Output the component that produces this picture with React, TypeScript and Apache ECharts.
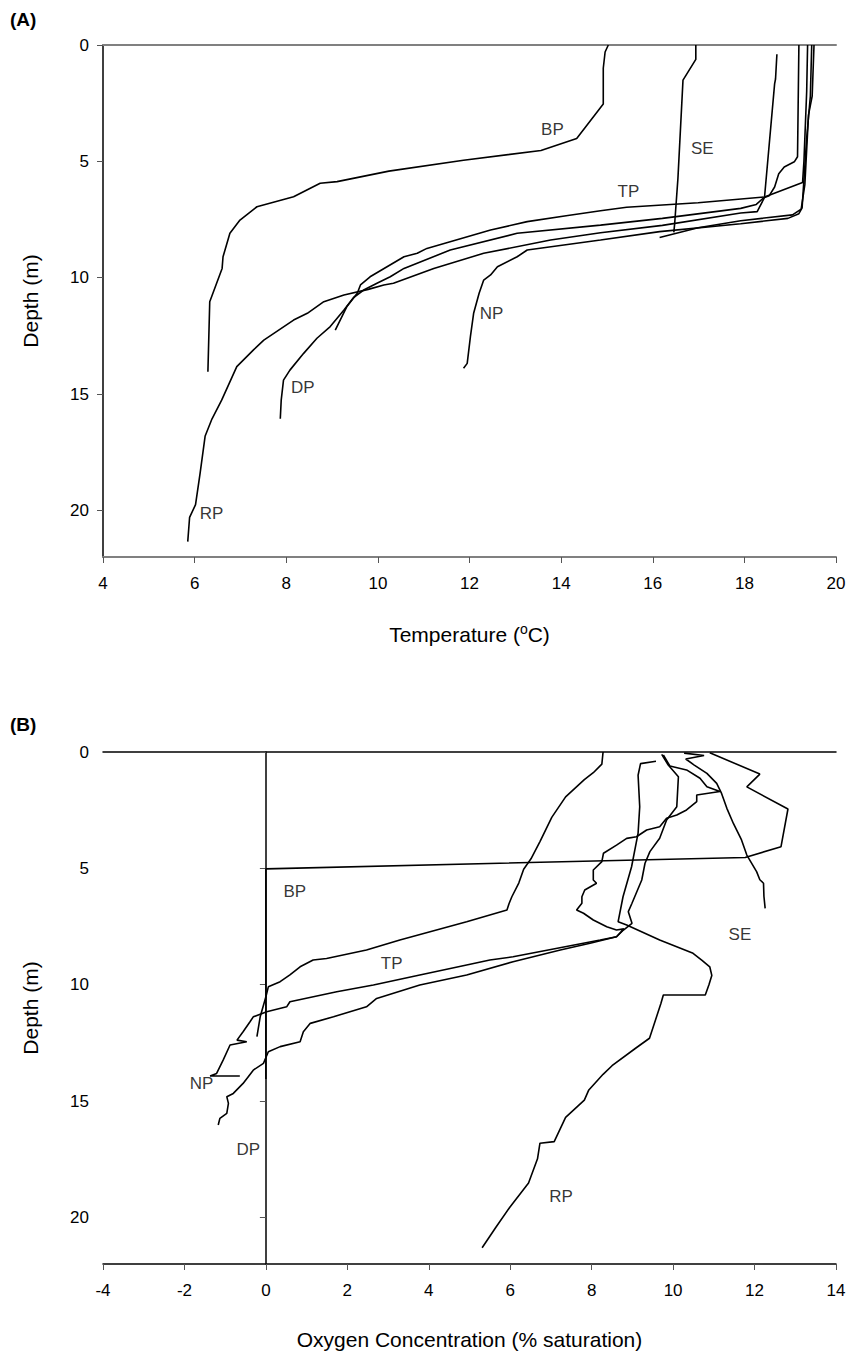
import React, { useEffect, useRef } from "react";
import * as echarts from "echarts";

// ---------- Panel A: temperature profiles [temperature °C, depth m] ----------
const tempBP = [[15.03,0],[14.96,0.3],[14.92,1.0],[14.92,2.54],[14.34,4.02],[13.56,4.53],[11.87,4.95],[10.24,5.42],[9.11,5.87],[8.74,5.94],[8.16,6.52],[7.36,6.95],[6.99,7.52],[6.77,8.09],[6.62,9.1],[6.6,9.6],[6.33,11.03],[6.29,14.04]];
const tempSE = [[16.94,0],[16.94,0.62],[16.66,1.51],[16.55,5.72],[16.48,7.64],[16.46,8.05]];
const tempTP = [[19.38,0],[19.36,2],[19.3,5],[19.27,5.91],[18.44,6.53],[16.99,6.78],[15.43,6.97],[14.86,7.12],[14.11,7.34],[13.26,7.59],[12.46,7.95],[11.07,8.74],[10.86,8.95],[10.57,9.1],[9.83,9.96],[9.62,10.31],[9.55,10.67],[9.32,11.25],[9.07,12.25]];
const tempDP = [[18.71,0.4],[18.68,1.46],[18.66,1.67],[18.44,6.53],[18.26,6.85],[17.92,7.02],[16.21,7.45],[14.86,7.74],[13.04,8.09],[11.58,8.81],[10.57,9.6],[10.27,9.96],[9.98,10.24],[9.69,10.53],[9.47,10.85],[9.26,11.39],[8.96,12.1],[8.67,12.6],[8.38,13.25],[8.08,13.97],[7.94,14.4],[7.89,15.26],[7.87,16.06]];
const tempRP = [[19.19,0],[19.16,4.8],[19.09,5.02],[18.87,5.24],[18.75,5.53],[18.66,6.1],[18.54,6.48],[18.44,6.55],[18.28,7.16],[17.92,7.22],[16.21,7.75],[14.86,8.07],[13.77,8.38],[12.31,8.95],[11.22,9.6],[10.34,10.24],[10.13,10.31],[9.79,10.5],[9.26,10.74],[8.82,11.03],[8.46,11.53],[8.16,11.82],[7.51,12.68],[7.28,13.11],[6.92,13.82],[6.59,15.26],[6.38,16.06],[6.23,16.8],[6.12,18.4],[6.02,19.75],[5.89,20.3],[5.85,21.34]];
const tempNP = [[19.47,0],[19.44,2.2],[19.36,4],[19.26,7.0],[19.19,7.25],[18.95,7.45],[17.92,7.68],[16.15,8.02],[14.86,8.38],[13.26,8.81],[13.04,9.1],[12.61,9.53],[12.46,9.88],[12.31,10.1],[12.21,10.67],[12.09,11.53],[12.02,12.53],[11.95,13.68],[11.87,13.89]];
const tempExtra = [[19.52,0],[19.48,2.2],[19.4,3.0],[19.32,6.0],[19.24,7.05],[19.05,7.3],[17.92,7.55],[16.99,7.85],[16.15,8.27]];
const tempLabels = [[13.81,3.65,"BP"],[17.08,4.46,"SE"],[15.47,6.31,"TP"],[12.48,11.55,"NP"],[8.36,14.73,"DP"],[6.37,20.12,"RP"]];

// ---------- Panel B: oxygen profiles [oxygen, depth m] ----------
const oxyBP = [[10.9,0.03],[12.13,0.95],[11.81,1.5],[12.82,2.45],[12.65,4.07],[11.77,4.53],[0,5.02],[0,14.05]];
const oxySE = [[10.27,0.05],[10.76,0.15],[10.31,0.3],[10.51,0.55],[10.83,0.92],[11.07,1.35],[11.19,1.78],[11.32,2.42],[11.48,3.07],[11.68,3.78],[11.81,4.43],[12.05,5.14],[12.13,5.49],[12.22,5.64],[12.23,6.2],[12.26,6.72]];
const oxyRP = [[9.58,0.4],[9.2,0.5],[9.14,1.0],[9.18,2.35],[9.14,3.49],[8.98,4.93],[8.77,6.22],[8.65,7.29],[8.86,7.43],[9.67,8.08],[10.49,8.65],[10.71,8.95],[10.9,9.23],[10.95,9.6],[10.88,10.0],[10.79,10.44],[9.76,10.44],[9.7,10.81],[9.42,12.3],[9.07,12.74],[8.5,13.48],[8.28,13.85],[7.93,14.52],[7.82,14.96],[7.36,15.7],[7.08,16.74],[6.73,16.81],[6.67,17.48],[6.45,18.52],[5.99,19.56],[5.64,20.44],[5.31,21.3]];
const oxyTP = [[8.28,0],[8.25,0.52],[8.04,0.89],[7.82,1.19],[7.36,1.93],[7.02,2.81],[6.73,3.85],[6.51,4.59],[6.33,5.04],[6.21,5.63],[6.04,6.22],[5.97,6.52],[5.92,6.79],[4.93,7.29],[3.29,8.08],[2.47,8.51],[1.49,8.87],[1.16,8.94],[0.84,9.23],[0.59,9.58],[0.35,9.87],[0.06,10.09],[0,10.52],[-0.14,11.38],[-0.22,12.23]];
const oxyNP = [[9.76,0.13],[9.92,0.6],[10.33,0.77],[10.66,1.13],[10.83,1.49],[11.15,1.7],[10.58,1.85],[10.58,2.13],[10.33,2.49],[10.09,2.71],[9.84,2.85],[9.67,3.21],[9.35,3.35],[9.1,3.64],[8.86,3.71],[8.61,4.0],[8.29,4.35],[8.25,4.71],[8.04,5.07],[8.04,5.5],[8.12,5.64],[7.83,5.93],[7.76,6.22],[7.76,6.5],[7.63,6.79],[7.8,6.93],[8.04,7.22],[8.37,7.51],[8.61,7.65],[8.79,7.6],[8.61,7.94],[8.21,8.08],[6.07,8.8],[5.5,8.94],[4.93,9.15],[3.78,9.58],[2.64,10.01],[1.74,10.3],[0.59,10.73],[0.51,10.95],[0.02,11.16],[-0.31,11.38],[-0.39,11.59],[-0.56,12.02],[-0.71,12.38],[-0.47,12.45],[-0.88,12.59],[-1.05,13.24],[-1.21,13.81],[-1.37,13.92],[-0.64,13.92]];
const oxyDP = [[9.72,0.1],[9.88,0.56],[10.13,1.06],[10.09,2.35],[9.84,2.92],[9.67,3.71],[9.43,4.28],[9.31,4.78],[9.23,5.5],[8.99,6.5],[8.9,6.86],[8.99,7.36],[8.78,7.65],[8.61,7.94],[7.96,8.22],[7.23,8.51],[6.07,9.01],[4.93,9.58],[3.78,10.01],[2.72,10.59],[2.47,10.95],[1.66,11.38],[1.09,11.66],[0.92,12.02],[0.84,12.45],[0.35,12.66],[0.06,12.88],[-0.06,13.38],[-0.31,13.67],[-0.56,14.24],[-0.8,14.67],[-0.96,14.81],[-0.92,15.1],[-0.96,15.53],[-1.13,15.74],[-1.17,16.03]];
const oxyLabels = [[0.71,6.0,"BP"],[3.09,9.08,"TP"],[-1.58,14.24,"NP"],[-0.43,17.1,"DP"],[7.25,19.1,"RP"],[11.64,7.86,"SE"]];

const depthTicks = [0, 5, 10, 15, 20];

const FONT = "'Liberation Sans', Arial, sans-serif";

function lineSeries(data: number[][], xi: number, yi: number) {
  return {
    type: "line",
    data,
    xAxisIndex: xi,
    yAxisIndex: yi,
    showSymbol: false,
    symbol: "none",
    lineStyle: { color: "#000", width: 1.6 },
    z: 3,
  };
}

function labelSeries(data: (number | string)[][], xi: number, yi: number) {
  return {
    type: "scatter",
    data,
    xAxisIndex: xi,
    yAxisIndex: yi,
    symbolSize: 0,
    label: {
      show: true,
      position: "inside",
      formatter: (p: any) => p.data[2],
      color: "#000",
      fontSize: 17,
      fontFamily: FONT,
    },
    z: 4,
  };
}

export default function App() {
  const ref = useRef<HTMLDivElement>(null);
  useEffect(() => {
    if (!ref.current) return;
    const chart = echarts.init(ref.current, undefined, { renderer: "svg" });
    const yAxisBase = (gi: number) => ({
      type: "value",
      gridIndex: gi,
      inverse: true,
      min: 0,
      max: 22,
      interval: 5,
      name: "Depth (m)",
      nameLocation: "middle",
      nameGap: 62,
      nameTextStyle: { fontSize: 21, color: "#000", fontFamily: FONT },
      axisLine: { show: true, lineStyle: { color: "#000", width: 1.5 } },
      axisTick: { show: true, inside: false, length: 6, customValues: depthTicks, lineStyle: { color: "#555" } },
      axisLabel: { fontSize: 17, color: "#000", fontFamily: FONT, margin: 14, customValues: depthTicks },
      splitLine: { show: false },
    });
    const frameTop = (gi: number, min: number, max: number, color: string, width: number) => ({
      type: "value",
      gridIndex: gi,
      position: "top",
      min,
      max,
      axisLine: { show: true, onZero: false, lineStyle: { color, width } },
      axisTick: { show: false },
      axisLabel: { show: false },
      splitLine: { show: false },
    });
    chart.setOption({
      animation: false,
      backgroundColor: "#fff",
      textStyle: { fontFamily: FONT },
      grid: [
        { left: 103, top: 45, width: 733, height: 512 },
        { left: 103, top: 752, width: 733, height: 512 },
      ],
      xAxis: [
        {
          type: "value",
          gridIndex: 0,
          min: 4,
          max: 20,
          interval: 2,
          name: "Temperature ({sup|o}C)",
          nameLocation: "middle",
          nameGap: 65,
          nameTextStyle: {
            fontSize: 21,
            color: "#000",
            fontFamily: FONT,
            rich: { sup: { fontSize: 14, padding: [0, 0, 10, 0], fontFamily: FONT, color: "#000" } },
          },
          axisLine: { show: true, onZero: false, lineStyle: { color: "#808080", width: 2 } },
          axisTick: { show: true, length: 6, lineStyle: { color: "#555" } },
          axisLabel: { fontSize: 17, color: "#000", fontFamily: FONT, margin: 18 },
          splitLine: { show: false },
        },
        frameTop(0, 4, 20, "#808080", 2),
        {
          type: "value",
          gridIndex: 1,
          min: -4,
          max: 14,
          interval: 2,
          name: "Oxygen Concentration (% saturation)",
          nameLocation: "middle",
          nameGap: 65,
          nameTextStyle: { fontSize: 21, color: "#000", fontFamily: FONT },
          axisLine: { show: true, onZero: false, lineStyle: { color: "#000", width: 1.5 } },
          axisTick: { show: true, length: 6, lineStyle: { color: "#555" } },
          axisLabel: { fontSize: 17, color: "#000", fontFamily: FONT, margin: 18 },
          splitLine: { show: false },
        },
        frameTop(1, -4, 14, "#000", 1.5),
      ],
      yAxis: [yAxisBase(0), yAxisBase(1)],
      graphic: [
        { type: "text", left: 10, top: 10, style: { text: "(A)", fontSize: 19, fontWeight: "bold", fill: "#000", fontFamily: FONT } },
        { type: "text", left: 10, top: 715, style: { text: "(B)", fontSize: 19, fontWeight: "bold", fill: "#000", fontFamily: FONT } },
      ],
      series: [
        lineSeries(tempBP, 0, 0),
        lineSeries(tempSE, 0, 0),
        lineSeries(tempTP, 0, 0),
        lineSeries(tempDP, 0, 0),
        lineSeries(tempRP, 0, 0),
        lineSeries(tempNP, 0, 0),
        lineSeries(tempExtra, 0, 0),
        labelSeries(tempLabels, 0, 0),
        lineSeries(oxyBP, 2, 1),
        lineSeries(oxySE, 2, 1),
        lineSeries(oxyRP, 2, 1),
        lineSeries(oxyTP, 2, 1),
        lineSeries(oxyNP, 2, 1),
        lineSeries(oxyDP, 2, 1),
        labelSeries(oxyLabels, 2, 1),
      ],
    });
    return () => chart.dispose();
  }, []);
  return (
    <div
      ref={ref}
      style={{ position: "absolute", left: 0, top: 0, width: 851, height: 1357, background: "#fff" }}
    />
  );
}
